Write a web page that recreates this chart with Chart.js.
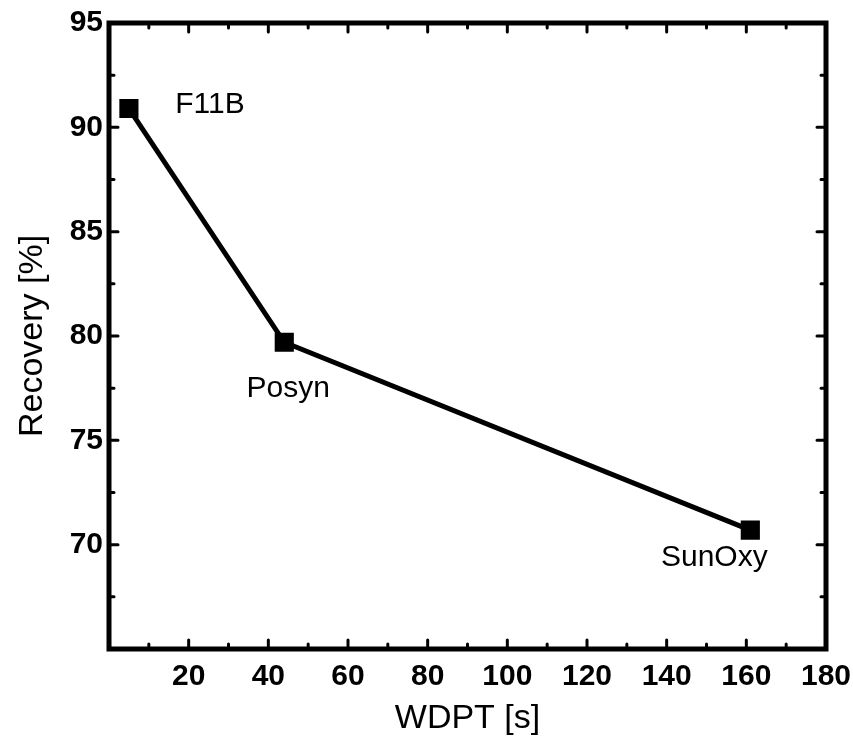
<!DOCTYPE html>
<html>
<head>
<meta charset="utf-8">
<script src="https://cdn.jsdelivr.net/npm/chart.js@4/dist/chart.umd.min.js"></script>
<style>
  html, body { margin: 0; padding: 0; background: #fff; }
  #wrap { width: 853px; height: 739px; }
</style>
</head>
<body>
<div id="wrap"><canvas id="myChart" width="853" height="739"></canvas></div>
<script>
// data
var wdpt = [5, 44, 161];
var recovery = [90.9, 79.7, 70.7];
var pointNames = ['F11B', 'Posyn', 'SunOxy'];
// where each name sits relative to its point (px)
var nameOffsets = [[81, -4], [4, 46], [-36, 28]];

var xMajor = [20, 40, 60, 80, 100, 120, 140, 160, 180],
    xMinor = [10, 30, 50, 70, 90, 110, 130, 150, 170],
    yMajor = [70, 75, 80, 85, 90],
    yMinor = [67.5, 72.5, 77.5, 82.5, 87.5, 92.5];

var fontFam = '"Liberation Sans", Arial, Helvetica, sans-serif';

var theData = [];
for (var i = 0; i < wdpt.length; i++) {
  theData.push({x: wdpt[i], y: recovery[i]});
}

// inward ticks on all four sides, plus the heavy frame
var frameTicks = {
  id: 'frameTicks',
  afterDraw: function(chart) {
    var ctx = chart.ctx,
        area = chart.chartArea,
        xs = chart.scales.x,
        ys = chart.scales.y;
    ctx.save();
    ctx.strokeStyle = '#000';
    ctx.lineWidth = 3;
    ctx.lineCap = 'round';
    function tickX(val, len) {
      var px = xs.getPixelForValue(val);
      ctx.beginPath();
      ctx.moveTo(px, area.bottom); ctx.lineTo(px, area.bottom - len);
      ctx.moveTo(px, area.top); ctx.lineTo(px, area.top + len);
      ctx.stroke();
    }
    function tickY(val, len) {
      var py = ys.getPixelForValue(val);
      ctx.beginPath();
      ctx.moveTo(area.left, py); ctx.lineTo(area.left + len, py);
      ctx.moveTo(area.right, py); ctx.lineTo(area.right - len, py);
      ctx.stroke();
    }
    xMajor.forEach(function(v){ tickX(v, 9); });
    xMinor.forEach(function(v){ tickX(v, 5); });
    yMajor.forEach(function(v){ tickY(v, 9); });
    yMinor.forEach(function(v){ tickY(v, 5); });

    ctx.lineWidth = 5;
    ctx.lineCap = 'butt';
    ctx.strokeRect(area.left, area.top, area.right - area.left, area.bottom - area.top);

    // point names
    ctx.fillStyle = '#000';
    ctx.font = '30px ' + fontFam;
    ctx.textAlign = 'center';
    ctx.textBaseline = 'middle';
    var meta = chart.getDatasetMeta(0);
    meta.data.forEach(function(pt, i){
      ctx.fillText(pointNames[i], pt.x + nameOffsets[i][0], pt.y + nameOffsets[i][1]);
    });
    ctx.restore();
  }
};

var ctx = document.getElementById('myChart').getContext('2d');
var myChart = new Chart(ctx, {
  type: 'scatter',
  data: {
    datasets: [{
      label: 'Recovery',
      data: theData,
      showLine: true,
      borderColor: '#000',
      backgroundColor: '#000',
      borderWidth: 5,
      pointStyle: 'rect',
      pointRadius: 10,
      pointHoverRadius: 10
    }]
  },
  options: {
    responsive: false,
    animation: false,
    layout: { padding: { top: 23, right: 27, left: 0, bottom: 0 } },
    plugins: {
      legend: { display: false },
      tooltip: { enabled: false }
    },
    scales: {
      x: {
        type: 'linear',
        min: 0,
        max: 180,
        afterFit: function(s){ s.height = 90; s.paddingRight = 0; s.paddingLeft = 0; },
        grid: { display: false, drawTicks: false },
        border: { display: false },
        ticks: {
          stepSize: 20,
          padding: 10,
          color: '#000',
          font: { family: fontFam, size: 30, weight: 'bold' },
          callback: function(v){ return v === 0 ? '' : v; }
        },
        title: {
          display: true,
          text: 'WDPT [s]',
          color: '#000',
          padding: { top: 4, bottom: 0 },
          font: { family: fontFam, size: 34 }
        }
      },
      y: {
        type: 'linear',
        min: 65,
        max: 95,
        afterFit: function(s){ s.width = 109; s.paddingTop = 0; s.paddingBottom = 0; },
        grid: { display: false, drawTicks: false },
        border: { display: false },
        ticks: {
          stepSize: 5,
          padding: 6,
          color: '#000',
          font: { family: fontFam, size: 30, weight: 'bold' },
          callback: function(v){ return v === 65 ? '' : v; }
        },
        title: {
          display: true,
          text: 'Recovery [%]',
          color: '#000',
          padding: { top: 12, bottom: 0 },
          font: { family: fontFam, size: 34 }
        }
      }
    }
  },
  plugins: [frameTicks]
});
</script>
</body>
</html>
